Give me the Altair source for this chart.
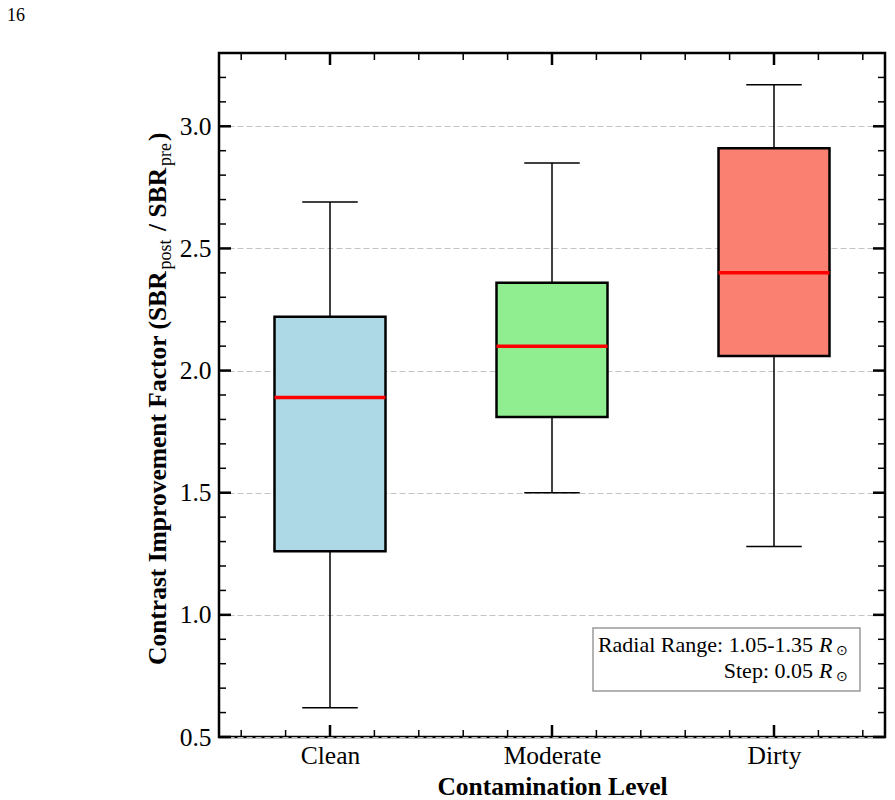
import json

import altair as alt
import pandas as pd

# Box statistics per contamination level
categories = ["Clean", "Moderate", "Dirty"]
whisker_low = [0.62, 1.50, 1.28]
q1 = [1.26, 1.81, 2.06]
median = [1.89, 2.10, 2.40]
q3 = [2.22, 2.36, 2.91]
whisker_high = [2.69, 2.85, 3.17]

palette = ["#ADD8E6", "#90EE90", "#FA8072"]

# Tick positions
y_major = [0.5, 1.0, 1.5, 2.0, 2.5, 3.0]
y_minor = [0.6, 0.7, 0.8, 0.9, 1.1, 1.2, 1.3, 1.4, 1.6, 1.7, 1.8, 1.9,
           2.1, 2.2, 2.3, 2.4, 2.6, 2.7, 2.8, 2.9, 3.1, 3.2]
x_major = [1, 2, 3]
x_minor = [0.6, 0.8, 1.2, 1.4, 1.6, 1.8, 2.2, 2.4, 2.6, 2.8, 3.2, 3.4]

W, H = 666, 684
FONT = "Liberation Serif"
BIG = 25.5
SUB = 18

df = pd.DataFrame({
    "category": categories,
    "pos": [i + 1 for i in range(len(categories))],
    "low": whisker_low,
    "q1": q1,
    "median": median,
    "q3": q3,
    "high": whisker_high,
})

x_scale = alt.Scale(domain=[0.5, 3.5], nice=False, zero=False)
y_scale = alt.Scale(domain=[0.5, 3.3], nice=False, zero=False)

label_expr = f"{json.dumps(categories)}[datum.value - 1]"

x_axis = alt.Axis(
    values=x_major, labelExpr=label_expr, ticks=False, tickSize=0, domain=False,
    grid=False, labelFont=FONT, labelFontSize=BIG, labelColor="black",
    labelPadding=6, labelAngle=0, title="Contamination Level", titleFont=FONT,
    titleFontSize=BIG, titleFontWeight="bold", titleColor="black",
    titleBaseline="alphabetic", titleY=57,
)
y_axis = alt.Axis(
    values=y_major, format=".1f", ticks=False, tickSize=0, domain=False,
    grid=True, gridColor="#c4c4c4", gridDash=[6, 3], gridWidth=1,
    labelFont=FONT, labelFontSize=BIG, labelColor="black", labelPadding=8,
    title="",
)


def X(field):
    return alt.X(field, scale=x_scale, axis=x_axis)


def Y(field):
    return alt.Y(field, scale=y_scale, axis=y_axis)


base = alt.Chart(df).transform_calculate(
    left="datum.pos - 0.25", right="datum.pos + 0.25",
    capl="datum.pos - 0.125", capr="datum.pos + 0.125",
)

whisk_up = base.mark_rule(color="black", strokeWidth=1.5).encode(
    x=X("pos:Q"), y=Y("q3:Q"), y2="high:Q",
)
whisk_down = base.mark_rule(color="black", strokeWidth=1.5).encode(
    x=X("pos:Q"), y=Y("low:Q"), y2="q1:Q",
)
cap_hi = base.mark_rule(color="black", strokeWidth=1.5).encode(
    x=X("capl:Q"), x2="capr:Q", y=Y("high:Q"),
)
cap_lo = base.mark_rule(color="black", strokeWidth=1.5).encode(
    x=X("capl:Q"), x2="capr:Q", y=Y("low:Q"),
)
boxes = base.mark_rect(stroke="black", strokeWidth=2.5).encode(
    x=X("left:Q"), x2="right:Q", y=Y("q1:Q"), y2="q3:Q",
    fill=alt.Fill("category:N", scale=alt.Scale(domain=categories, range=palette), legend=None),
)
medians = base.mark_rule(color="red", strokeWidth=3.5).encode(
    x=X("left:Q"), x2="right:Q", y=Y("median:Q"),
)


# Inward-facing ticks on all four sides
def y_ticks(values, length, width):
    d = alt.Chart(pd.DataFrame({"v": values}))
    left = d.mark_rule(color="black", strokeWidth=width).encode(
        y=Y("v:Q"), x=alt.value(0), x2=alt.value(length))
    right = d.mark_rule(color="black", strokeWidth=width).encode(
        y=Y("v:Q"), x=alt.value(W), x2=alt.value(W - length))
    return [left, right]


def x_ticks(values, length, width):
    d = alt.Chart(pd.DataFrame({"v": values}))
    bottom = d.mark_rule(color="black", strokeWidth=width).encode(
        x=X("v:Q"), y=alt.value(H), y2=alt.value(H - length))
    top = d.mark_rule(color="black", strokeWidth=width).encode(
        x=X("v:Q"), y=alt.value(0), y2=alt.value(length))
    return [bottom, top]


tick_layers = (y_ticks(y_major, 12, 2.5) + y_ticks(y_minor, 7, 1.5)
               + x_ticks(x_major, 12, 2.5) + x_ticks(x_minor, 7, 1.5))


def text(t, x, y, size=BIG, weight="normal", style="normal", align="left", angle=0, color="black"):
    return alt.Chart(pd.DataFrame({"t": [t]})).mark_text(
        font=FONT, fontSize=size, fontWeight=weight, fontStyle=style, align=align,
        baseline="alphabetic", angle=angle, color=color,
    ).encode(text="t:N", x=alt.value(x), y=alt.value(y))


# Rotated y title with subscripts
MX, SX = -53, -48
y_title = [
    text("Contrast Improvement Factor (SBR", MX, 612, weight="bold", angle=270),
    text("post", SX, 216.5, size=SUB, angle=270),
    text("/ SBR", MX, 178, weight="bold", angle=270),
    text("pre", SX, 113, size=SUB, angle=270),
    text(")", MX, 88, weight="bold", angle=270),
]

# Annotation box
note_box = alt.Chart(pd.DataFrame({"a": [0]})).mark_rect(
    fill="white", stroke="#9a9a9a", strokeWidth=1.5
).encode(x=alt.value(374), x2=alt.value(641), y=alt.value(575), y2=alt.value(638))
notes = [
    text("Radial Range: 1.05-1.35", 594, 599, size=22, align="right"),
    text("R", 600, 599, size=22, style="italic"),
    text("\u2299", 617, 602, size=14),
    text("Step: 0.05", 594, 625, size=22, align="right"),
    text("R", 600, 625, size=22, style="italic"),
    text("\u2299", 617, 628, size=14),
]

page_no = text("16", -212, -32, size=18)

chart = alt.layer(
    whisk_up, whisk_down, cap_hi, cap_lo, boxes, medians,
    *tick_layers, *y_title, note_box, *notes, page_no,
).properties(
    width=W, height=H,
    padding={"left": 219, "top": 53, "right": 10, "bottom": 63},
    autosize=alt.AutoSizeParams(type="none"),
    background="white",
).configure_view(stroke="black", strokeWidth=2.5)

chart.save("out.html", embed_options={"renderer": "svg", "actions": False})
